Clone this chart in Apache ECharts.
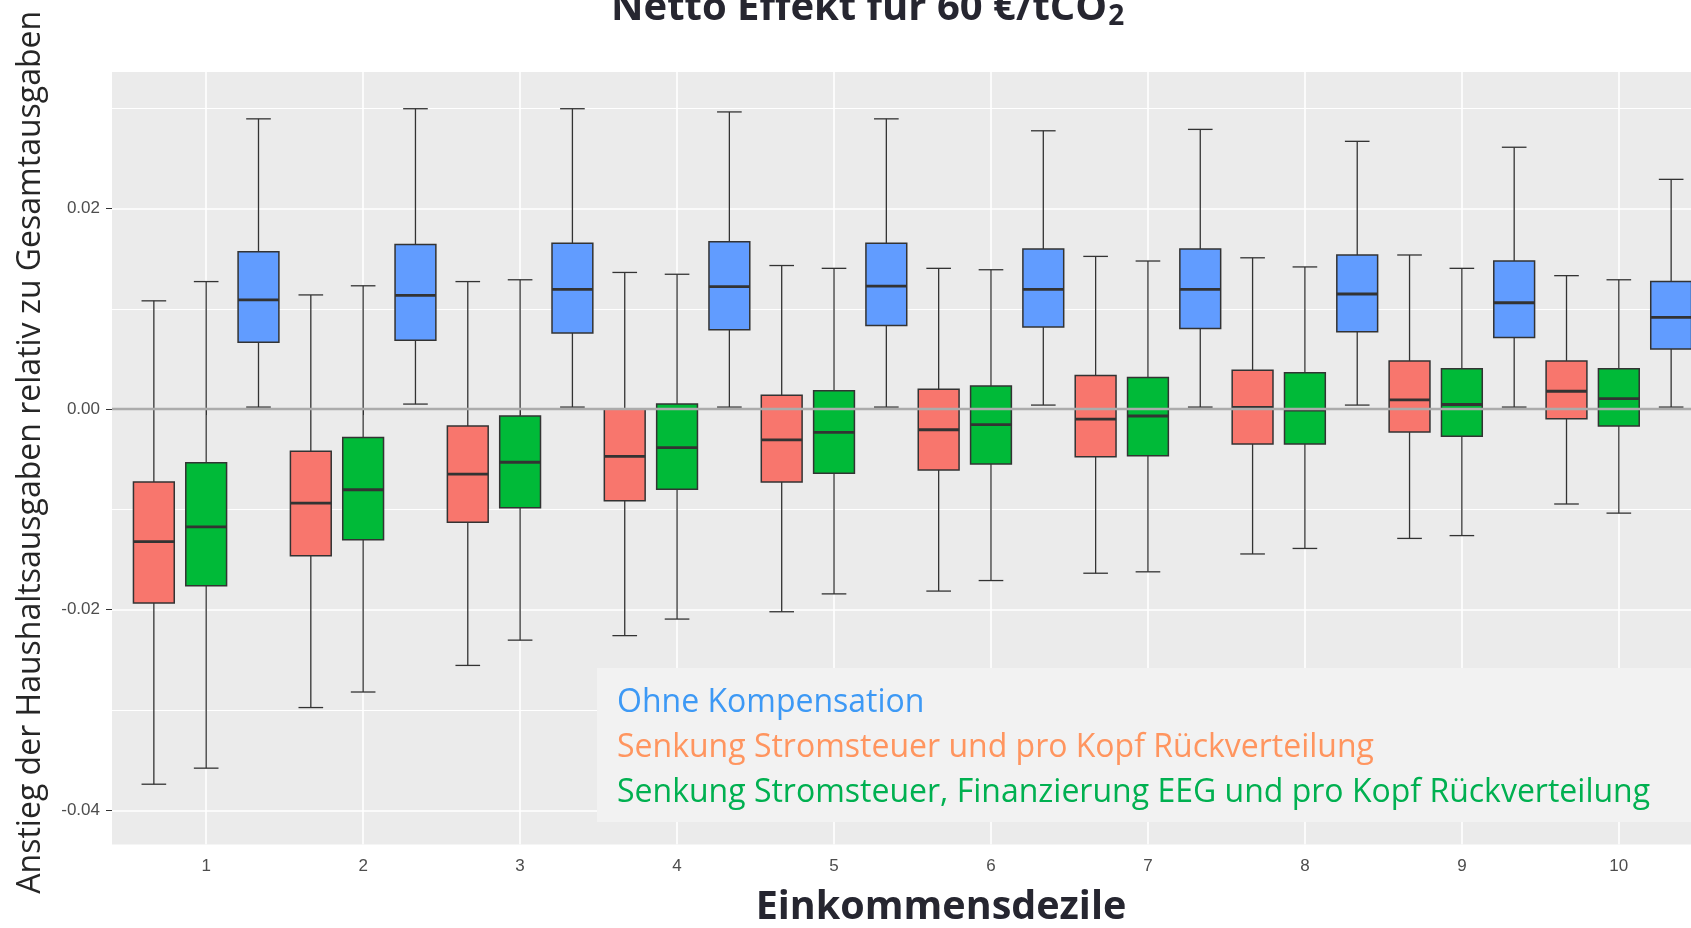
<!DOCTYPE html>
<html>
<head>
<meta charset="utf-8">
<title>Netto Effekt</title>
<script src="https://cdn.jsdelivr.net/npm/echarts@6/dist/echarts.min.js"></script>
<style>
    html, body { margin: 0; padding: 0; background: #fff; }
    #main { width: 1691px; height: 928px; }
</style>
</head>
<body>
<div id="main"></div>
<script type="text/javascript">
    /* Daten: je Dezil [unterer Whisker, Q1, Median, Q3, oberer Whisker] */
    var deciles = [1, 2, 3, 4, 5, 6, 7, 8, 9, 10];

    var ohneKompensation = [
        [0.0002, 0.00667, 0.01088, 0.01568, 0.02893],
        [0.0005, 0.00686, 0.01133, 0.01641, 0.02994],
        [0.0002, 0.00759, 0.01193, 0.01654, 0.02994],
        [0.0002, 0.00791, 0.01220, 0.01668, 0.02962],
        [0.0002, 0.00832, 0.01225, 0.01654, 0.02893],
        [0.0004, 0.00818, 0.01193, 0.01595, 0.02774],
        [0.0002, 0.00804, 0.01193, 0.01595, 0.02788],
        [0.0004, 0.00772, 0.01147, 0.01536, 0.02669],
        [0.0002, 0.00713, 0.01060, 0.01476, 0.02610],
        [0.0002, 0.00599, 0.00914, 0.01271, 0.02290]
    ];

    var stromsteuerProKopf = [
        [-0.03739, -0.01933, -0.01321, -0.00727, 0.01079],
        [-0.02975, -0.01463, -0.00937, -0.00420, 0.01138],
        [-0.02555, -0.01129, -0.00649, -0.00169, 0.01271],
        [-0.02258, -0.00914, -0.00471, 0.00000, 0.01362],
        [-0.02020, -0.00727, -0.00306, 0.00137, 0.01431],
        [-0.01814, -0.00608, -0.00206, 0.00197, 0.01403],
        [-0.01636, -0.00475, -0.00101, 0.00334, 0.01522],
        [-0.01444, -0.00347, 0.00018, 0.00388, 0.01508],
        [-0.01289, -0.00229, 0.00091, 0.00480, 0.01536],
        [-0.00946, -0.00096, 0.00178, 0.00480, 0.01330]
    ];

    var stromsteuerEEG = [
        [-0.03579, -0.01760, -0.01175, -0.00535, 0.01271],
        [-0.02820, -0.01303, -0.00804, -0.00283, 0.01229],
        [-0.02303, -0.00983, -0.00530, -0.00069, 0.01289],
        [-0.02093, -0.00800, -0.00384, 0.00050, 0.01344],
        [-0.01842, -0.00640, -0.00233, 0.00183, 0.01403],
        [-0.01709, -0.00548, -0.00155, 0.00229, 0.01389],
        [-0.01622, -0.00466, -0.00069, 0.00315, 0.01476],
        [-0.01389, -0.00347, -0.00010, 0.00361, 0.01417],
        [-0.01261, -0.00270, 0.00046, 0.00402, 0.01403],
        [-0.01037, -0.00169, 0.00105, 0.00402, 0.01289]
    ];

    var yTicks = [-0.04, -0.02, 0, 0.02];

    var names = [
        'Senkung Stromsteuer und pro Kopf Rückverteilung',
        'Senkung Stromsteuer, Finanzierung EEG und pro Kopf Rückverteilung',
        'Ohne Kompensation'
    ];
    var fills = ['#F8766D', '#00BA38', '#619CFF'];
    var textColors = ['#FF955F', '#00B050', '#3D99F5'];
    var offsets = [-1 / 3, 0, 1 / 3];
    var boxWidth = 0.26, capWidth = 0.157;

    function toData(stats, offset) {
        return stats.map(function (s, i) {
            return [deciles[i] + offset].concat(s);
        });
    }

    function renderBox(params, api) {
        var x = api.value(0);
        var low = api.coord([x, api.value(1)]);
        var q1 = api.coord([x, api.value(2)]);
        var med = api.coord([x, api.value(3)]);
        var q3 = api.coord([x, api.value(4)]);
        var high = api.coord([x, api.value(5)]);
        var unit = api.size([1, 0])[0];
        var bw = unit * boxWidth / 2, cw = unit * capWidth / 2;
        var cx = med[0];
        var line = { stroke: '#333333', lineWidth: 1.3 };
        return {
            type: 'group',
            children: [
                { type: 'line', shape: { x1: cx, y1: high[1], x2: cx, y2: q3[1] }, style: line },
                { type: 'line', shape: { x1: cx, y1: q1[1], x2: cx, y2: low[1] }, style: line },
                { type: 'line', shape: { x1: cx - cw, y1: high[1], x2: cx + cw, y2: high[1] }, style: line },
                { type: 'line', shape: { x1: cx - cw, y1: low[1], x2: cx + cw, y2: low[1] }, style: line },
                { type: 'rect', shape: { x: cx - bw, y: q3[1], width: 2 * bw, height: q1[1] - q3[1] },
                  style: { fill: api.visual('color'), stroke: '#333333', lineWidth: 1.5 } },
                { type: 'line', shape: { x1: cx - bw, y1: med[1], x2: cx + bw, y2: med[1] },
                  style: { stroke: '#333333', lineWidth: 2.8 } }
            ]
        };
    }

    var allStats = [stromsteuerProKopf, stromsteuerEEG, ohneKompensation];
    var series = allStats.map(function (stats, k) {
        return {
            name: names[k],
            type: 'custom',
            renderItem: renderBox,
            itemStyle: { color: fills[k] },
            encode: { x: 0, y: [1, 2, 3, 4, 5] },
            data: toData(stats, offsets[k])
        };
    });
    // graue Nulllinie
    series[2].markLine = {
        silent: true,
        symbol: 'none',
        label: { show: false },
        lineStyle: { color: '#ABABAB', width: 2.4, type: 'solid' },
        data: [{ yAxis: 0 }]
    };

    var myChart = echarts.init(document.getElementById('main'));
    var option = {
        animation: false,
        title: {
            text: '{t|Netto Effekt für 60 €/tCO}{s|2}',
            left: 606,
            top: -20,
            textStyle: {
                rich: {
                    t: { fontFamily: 'Open Sans', fontWeight: 'bold', fontSize: 40, color: '#262630',
                         lineHeight: 46, padding: [0, 0, 2, 0], verticalAlign: 'bottom' },
                    s: { fontFamily: 'Open Sans', fontWeight: 'bold', fontSize: 28, color: '#262630',
                         lineHeight: 28, padding: [22, 0, 0, 1], verticalAlign: 'bottom' }
                }
            }
        },
        legend: {
            orient: 'vertical',
            left: 597,
            top: 668,
            data: [2, 0, 1].map(function (k) {
                return { name: names[k], textStyle: { color: textColors[k] } };
            }),
            icon: 'rect',
            itemWidth: 0,
            itemHeight: 0,
            itemGap: 13,
            itemStyle: { opacity: 0 },
            selectedMode: false,
            backgroundColor: '#F2F2F2',
            padding: [19, 80, 13, 15],
            textStyle: { fontFamily: 'Open Sans', fontSize: 32, lineHeight: 32 }
        },
        grid: {
            left: 112,
            width: 1601,
            top: 72,
            bottom: 83.5,
            outerBoundsMode: 'none',
            show: true,
            backgroundColor: '#EBEBEB',
            borderWidth: 0
        },
        xAxis: {
            type: 'value',
            min: 0.4,
            max: 10.6,
            splitNumber: 10,
            name: 'Einkommensdezile',
            nameLocation: 'middle',
            nameGap: 43,
            nameTextStyle: { fontFamily: 'Open Sans', fontWeight: 'bold', fontSize: 39.5, color: '#262630',
                             padding: [0, 0, 0, 57] },
            axisLine: { show: false },
            axisTick: { show: true, length: 6, lineStyle: { color: '#333333' }, customValues: deciles },
            axisLabel: { customValues: deciles, fontFamily: 'Liberation Sans', fontSize: 17,
                         color: '#4D4D4D', margin: 13 },
            splitLine: { show: true, lineStyle: { color: '#FFFFFF', width: 1.6 } }
        },
        yAxis: {
            type: 'value',
            min: -0.0434,
            max: 0.0336,
            name: 'Anstieg der Haushaltsausgaben relativ zu Gesamtausgaben',
            nameLocation: 'middle',
            nameRotate: 90,
            nameGap: 65,
            nameTextStyle: { fontFamily: 'Open Sans', fontSize: 32, color: '#262626', padding: [0, 0, 0, 12] },
            axisLine: { show: false },
            axisTick: { show: true, length: 6, lineStyle: { color: '#333333' }, customValues: yTicks },
            axisLabel: {
                customValues: yTicks,
                formatter: function (v) { return v.toFixed(2); },
                fontFamily: 'Liberation Sans', fontSize: 17, color: '#4D4D4D', margin: 12
            },
            splitLine: { show: true, lineStyle: { color: '#FFFFFF', width: 1.6 } },
            minorTick: { show: false, splitNumber: 2 },
            minorSplitLine: { show: true, lineStyle: { color: '#FFFFFF', width: 1 } }
        },
        series: series
    };
    myChart.setOption(option);
</script>
</body>
</html>
